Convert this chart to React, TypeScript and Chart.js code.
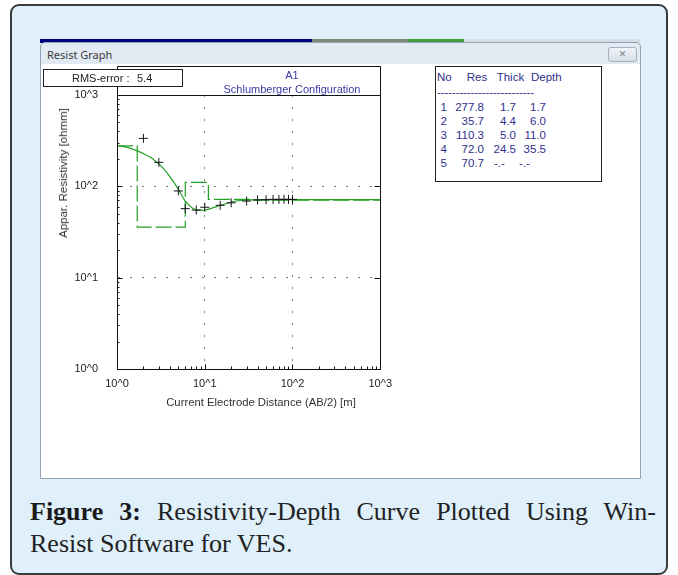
import React, { useEffect, useRef } from "react";
import { Chart, registerables } from "chart.js";

Chart.register(...registerables);

// ---- Data ----
// Observed apparent resistivity (field sounding), AB/2 in m, rho in ohm-m
const obsAB2 = [2, 3, 5, 6, 8, 10, 15, 20, 30, 40, 50, 60, 70, 80, 90, 100];
const obsRho = [335, 183, 89, 57, 55, 59, 62, 66, 69, 71, 71.5, 72, 72, 72, 72, 72];

// Calculated response curve of the layered model
const calcAB2 = [1, 1.4, 1.95, 2.5, 3.25, 4.05, 5, 6, 7.2, 8.2, 10, 12.3, 15, 20, 25, 36, 100, 1000];
const calcRho = [282, 262, 231, 203, 163, 126, 93, 69, 58, 55, 55, 58, 62, 67, 70, 71, 71.5, 71.5];

// Layer table
const tableHeaders = ["No", "Res", "Thick", "Depth"];
const layerNo = ["1", "2", "3", "4", "5"];
const layerRes = ["277.8", "35.7", "110.3", "72.0", "70.7"];
const layerThick = ["1.7", "4.4", "5.0", "24.5", "-.-"];
const layerDepth = ["1.7", "6.0", "11.0", "35.5", "-.-"];

const decades = [1, 10, 100, 1000];
const rmsError = "5.4";
const chartTitle = ["A1", "Schlumberger Configuration"];
const yTitle = "Appar. Resistivity [ohmm]";
const xTitle = "Current Electrode Distance (AB/2) [m]";

// Model step line built from the layer table
const modelX = [
  decades[0],
  ...layerDepth.filter((d) => d !== "-.-").map(Number),
  decades[decades.length - 1],
];
const modelY = [...layerRes.map(Number), Number(layerRes[layerRes.length - 1])];

const SANS = '"Liberation Sans", Arial, sans-serif';
const GREEN = "#23a023";
const TABLE_BLUE = "#2f2f8e";
const TITLE_BLUE = "#3a3aa6";

const isInnerDecade = (v: number) => v === 10 || v === 100;

const framePlugin = {
  id: "frameTicks",
  afterDraw(chart: any) {
    const { ctx, chartArea: ca, scales } = chart;
    const xs = scales.x;
    const ys = scales.y;
    ctx.save();
    ctx.strokeStyle = "#111";
    ctx.lineWidth = 1;
    const L = Math.round(ca.left) + 0.5;
    const R = Math.round(ca.right) + 0.5;
    const T = Math.round(ca.top) + 0.5;
    const B = Math.round(ca.bottom) + 0.5;
    const boxTop = T - 29;
    ctx.beginPath();
    // title box + plot frame
    ctx.moveTo(L, B);
    ctx.lineTo(L, boxTop);
    ctx.lineTo(R, boxTop);
    ctx.lineTo(R, B);
    ctx.moveTo(L, T);
    ctx.lineTo(R, T);
    ctx.stroke();

    // minor and major inside ticks
    ctx.beginPath();
    for (let d = 0; d < decades.length - 1; d++) {
      for (let m = 1; m <= 9; m++) {
        const v = decades[d] * m;
        const py = Math.round(ys.getPixelForValue(v)) + 0.5;
        const px = Math.round(xs.getPixelForValue(v)) + 0.5;
        if (m === 1) {
          if (d === 0) continue;
          ctx.moveTo(L, py);
          ctx.lineTo(L + 5, py);
          ctx.moveTo(R - 6, py);
          ctx.lineTo(R, py);
          ctx.moveTo(px, B);
          ctx.lineTo(px, B - 5);
        } else {
          ctx.moveTo(L, py);
          ctx.lineTo(L + 2, py);
          ctx.moveTo(px, B);
          ctx.lineTo(px, B - 3);
        }
      }
    }
    ctx.stroke();
    ctx.restore();
  },
};

const abs = (s: React.CSSProperties): React.CSSProperties => ({ position: "absolute", ...s });

export default function App() {
  const canvasRef = useRef<HTMLCanvasElement>(null);

  useEffect(() => {
    const canvas = canvasRef.current;
    if (!canvas) return;
    const tickFont = { family: SANS, size: 11 };
    const chart = new Chart(canvas, {
      type: "line",
      data: {
        datasets: [
          {
            label: "Observed",
            data: obsAB2.map((x, i) => ({ x, y: obsRho[i] })),
            showLine: false,
            pointStyle: "cross",
            pointRadius: 4.5,
            pointBorderWidth: 1,
            pointBorderColor: "#151515",
            borderColor: "#151515",
          },
          {
            label: "Calculated",
            data: calcAB2.map((x, i) => ({ x, y: calcRho[i] })),
            borderColor: GREEN,
            borderWidth: 1.2,
            pointRadius: 0,
            cubicInterpolationMode: "monotone",
            fill: false,
          },
          {
            label: "Model",
            data: modelX.map((x, i) => ({ x, y: modelY[i] })),
            borderColor: GREEN,
            borderWidth: 1.2,
            borderDash: [16, 4],
            stepped: "before",
            pointRadius: 0,
            fill: false,
          },
        ],
      } as any,
      options: {
        animation: false,
        responsive: false,
        maintainAspectRatio: false,
        layout: { padding: { left: 0, right: 14, top: 33, bottom: 0 } },
        plugins: {
          legend: { display: false },
          tooltip: { enabled: false },
          title: { display: false },
        },
        scales: {
          x: {
            type: "logarithmic",
            min: decades[0],
            max: decades[decades.length - 1],
            afterBuildTicks: (s: any) => {
              s.ticks = decades.map((v) => ({ value: v }));
            },
            afterFit: (s: any) => {
              s.height = 53;
            },
            ticks: {
              autoSkip: false,
              maxRotation: 0,
              padding: 8,
              color: "#222",
              font: tickFont,
              callback: (v: any) => "10^" + Math.round(Math.log10(Number(v))),
            },
            grid: {
              drawTicks: false,
              lineWidth: 1,
              color: (c: any) => (c.tick && isInnerDecade(c.tick.value) ? "#7a7a7a" : "rgba(0,0,0,0)"),
            },
            border: { display: true, color: "#111", width: 1, dash: [2, 10] },
          },
          y: {
            type: "logarithmic",
            min: decades[0],
            max: decades[decades.length - 1],
            afterBuildTicks: (s: any) => {
              s.ticks = decades.map((v) => ({ value: v }));
            },
            afterFit: (s: any) => {
              s.width = 77;
            },
            ticks: {
              autoSkip: false,
              padding: 19,
              color: "#222",
              font: tickFont,
              callback: (v: any) => "10^" + Math.round(Math.log10(Number(v))),
            },
            grid: {
              drawTicks: false,
              lineWidth: 1,
              color: (c: any) => (c.tick && isInnerDecade(c.tick.value) ? "#7a7a7a" : "rgba(0,0,0,0)"),
            },
            border: { display: true, color: "#111", width: 1, dash: [2, 10] },
          },
        },
      } as any,
      plugins: [framePlugin],
    });
    return () => chart.destroy();
  }, []);

  // table column placement (inside the table box)
  const rowTop = [32.7, 47, 61, 75.3, 89.3];
  const cellBase: React.CSSProperties = {
    position: "absolute",
    lineHeight: "14px",
    whiteSpace: "pre",
  };
  const numCols = [
    { values: layerRes, right: 117, dashLeft: 0 },
    { values: layerThick, right: 85, dashLeft: 58 },
    { values: layerDepth, right: 55, dashLeft: 83 },
  ];
  const headerLeft = [1, 30.8, 60.7, 95];

  return (
    <div style={{ position: "fixed", left: 0, top: 0, width: 678, height: 575, background: "#fff", overflow: "hidden" }}>
      {/* outer figure frame */}
      <div
        style={abs({
          left: 10,
          top: 4,
          width: 658,
          height: 571,
          boxSizing: "border-box",
          border: "2px solid #3a3a3a",
          borderRadius: 9,
          background: "#dff0fb",
        })}
      />
      {/* strip of background desktop above window */}
      <div style={abs({ left: 40, top: 39, width: 272, height: 4, background: "#00007e" })} />
      <div style={abs({ left: 312, top: 39, width: 96, height: 4, background: "#7f8a7a" })} />
      <div style={abs({ left: 408, top: 39, width: 56, height: 4, background: "#3f9f3f" })} />
      <div style={abs({ left: 464, top: 39, width: 176, height: 4, background: "#d7dde4" })} />

      {/* window */}
      <div
        style={abs({
          left: 40,
          top: 42,
          width: 601,
          height: 437,
          boxSizing: "border-box",
          border: "1px solid #93a1b2",
          borderRadius: "5px 5px 0 0",
          background: "linear-gradient(#e2eaf3, #cfdbe8)",
        })}
      />
      <div style={abs({ left: 41, top: 64, width: 599, height: 414, background: "#fff" })} />
      <div
        style={abs({
          left: 47,
          top: 48,
          fontFamily: '"Noto Sans", "DejaVu Sans", sans-serif',
          fontSize: 11,
          lineHeight: "14px",
          color: "#3a3a3a",
        })}
      >
        Resist Graph
      </div>
      <div
        style={abs({
          left: 608,
          top: 47,
          width: 29,
          height: 15,
          boxSizing: "border-box",
          border: "1px solid #a3afbe",
          borderRadius: 3,
          background: "linear-gradient(#f1f4f8, #d7dfe8)",
          color: "#6d7888",
          fontFamily: '"DejaVu Sans", sans-serif',
          fontSize: 9,
          lineHeight: "13px",
          textAlign: "center",
        })}
      >
        ✕
      </div>

      {/* chart */}
      <canvas ref={canvasRef} width={360} height={360} style={abs({ left: 40, top: 62, width: 360, height: 360 })} />

      {/* chart title inside the title box */}
      <div
        style={abs({
          left: 292,
          top: 68,
          transform: "translateX(-50%)",
          whiteSpace: "nowrap",
          textAlign: "center",
          fontFamily: SANS,
          fontSize: 11,
          lineHeight: "14px",
          color: TITLE_BLUE,
        })}
      >
        {chartTitle.map((t) => (
          <div key={t}>{t}</div>
        ))}
      </div>

      {/* axis titles */}
      <div
        style={abs({
          left: 63,
          top: 173,
          transform: "translate(-50%, -50%) rotate(-90deg)",
          whiteSpace: "nowrap",
          fontFamily: SANS,
          fontSize: 11.5,
          lineHeight: "14px",
          color: "#333",
        })}
      >
        {yTitle}
      </div>
      <div
        style={abs({
          left: 261,
          top: 402,
          transform: "translate(-50%, -50%)",
          whiteSpace: "nowrap",
          fontFamily: SANS,
          fontSize: 11.3,
          lineHeight: "14px",
          color: "#333",
        })}
      >
        {xTitle}
      </div>

      {/* RMS error box */}
      <div
        style={abs({
          left: 43,
          top: 69,
          width: 140,
          height: 18,
          boxSizing: "border-box",
          border: "1px solid #222",
          background: "#fff",
          fontFamily: SANS,
          fontSize: 11,
          color: "#222",
        })}
      >
        <span style={abs({ left: 28, top: 1, lineHeight: "14px" })}>RMS-error :</span>
        <span style={abs({ left: 93, top: 1, lineHeight: "14px" })}>{rmsError}</span>
      </div>

      {/* layer table */}
      <div
        style={abs({
          left: 435,
          top: 66,
          width: 167,
          height: 116,
          boxSizing: "border-box",
          border: "1px solid #222",
          background: "#fff",
          fontFamily: SANS,
          fontSize: 11.5,
          color: TABLE_BLUE,
        })}
      >
        {tableHeaders.map((h, i) => (
          <span key={h} style={{ ...cellBase, left: headerLeft[i], top: 2.7 }}>
            {h}
          </span>
        ))}
        <span style={{ ...cellBase, left: 1, top: 18, letterSpacing: "-0.1px" }}>{"-".repeat(26)}</span>
        {layerNo.map((n, r) => (
          <React.Fragment key={n}>
            <span style={{ ...cellBase, left: 4.5, top: rowTop[r] }}>{n}</span>
            {numCols.map((c, ci) =>
              c.values[r] === "-.-" ? (
                <span key={ci} style={{ ...cellBase, left: c.dashLeft, top: rowTop[r] }}>
                  {c.values[r]}
                </span>
              ) : (
                <span key={ci} style={{ ...cellBase, right: c.right, top: rowTop[r] }}>
                  {c.values[r]}
                </span>
              )
            )}
          </React.Fragment>
        ))}
      </div>

      {/* caption */}
      <div
        style={abs({
          left: 30,
          top: 496,
          width: 626,
          fontFamily: '"Liberation Serif", "Times New Roman", serif',
          fontSize: 26,
          lineHeight: "32px",
          color: "#222",
        })}
      >
        <div style={{ textAlign: "justify", textAlignLast: "justify", whiteSpace: "nowrap" as any }}>
          <b style={{ color: "#1a1a1a" }}>Figure 3:</b> Resistivity-Depth Curve Plotted Using Win-
        </div>
        <div>Resist Software for VES.</div>
      </div>
    </div>
  );
}
